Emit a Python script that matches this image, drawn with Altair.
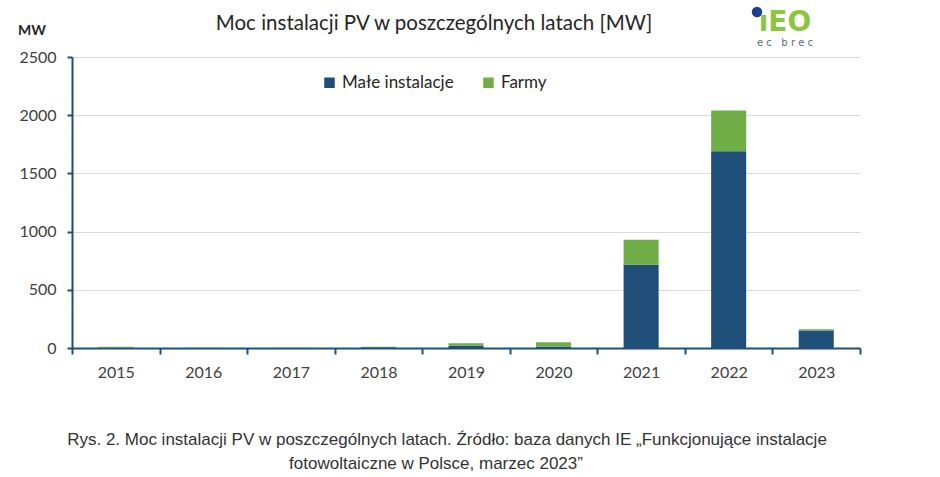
import altair as alt
import pandas as pd

years = ["2015", "2016", "2017", "2018", "2019", "2020", "2021", "2022", "2023"]
male = [5, 1, 1, 6, 20, 10, 716, 1690, 150]
farmy = [5, 0.5, 0.5, 4, 20, 40, 215, 350, 12]
series = ["Małe instalacje", "Farmy"]
colors = ["#1f4e79", "#70ad47"]
y_ticks = [0, 500, 1000, 1500, 2000, 2500]

rows = []
for i, yr in enumerate(years):
    rows.append({"rok": yr, "seria": series[0], "mw": male[i], "kolejnosc": 0})
    rows.append({"rok": yr, "seria": series[1], "mw": farmy[i], "kolejnosc": 1})
df = pd.DataFrame(rows)

FONT = "Lato"
AXIS_COL = "#1f4e79"
LABEL_COL = "#404040"

bars = alt.Chart(df).mark_bar(width=alt.RelativeBandSize(0.4)).encode(
    x=alt.X(
        "rok:N",
        sort=years,
        title=None,
        scale=alt.Scale(paddingInner=0, paddingOuter=0),
        axis=alt.Axis(
            labelAngle=0,
            tickBand="extent",
            domainColor=AXIS_COL,
            domainWidth=2,
            tickColor=AXIS_COL,
            tickWidth=2,
            tickSize=6,
            labelPadding=10,
            labelFont=FONT,
            labelFontSize=16,
            labelColor=LABEL_COL,
        ),
    ),
    y=alt.Y(
        "mw:Q",
        stack="zero",
        title=None,
        scale=alt.Scale(domain=[0, 2500], nice=False),
        axis=alt.Axis(
            values=y_ticks,
            format="d",
            domainColor=AXIS_COL,
            domainWidth=2,
            tickColor=AXIS_COL,
            tickWidth=2,
            tickSize=5,
            labelPadding=11,
            labelFont=FONT,
            labelFontSize=16,
            labelColor=LABEL_COL,
            gridColor="#d9d9d9",
            gridWidth=1,
        ),
    ),
    color=alt.Color(
        "seria:N",
        scale=alt.Scale(domain=series, range=colors),
        legend=alt.Legend(
            title=None,
            orient="none",
            legendX=249,
            legendY=17,
            direction="horizontal",
            symbolType="square",
            symbolSize=110,
            symbolStrokeWidth=0,
            labelFont=FONT,
            labelFontSize=17,
            labelColor="#262626",
            columnPadding=26,
            padding=0,
        ),
    ),
    order=alt.Order("kolejnosc:Q", sort="ascending"),
)


def txt(text, x, y, size, **kw):
    return alt.Chart(alt.Data(values=[{}])).mark_text(
        text=text, fontSize=size, baseline="middle", **kw
    ).encode(x=alt.value(x), y=alt.value(y))


title = txt("Moc instalacji PV w poszczególnych latach [MW]", 362, -33, 20.5,
            font=FONT, color="#262626", align="center")
mw = txt("MW", -54, -26, 14, font=FONT, fontWeight="bold", color="#262626", align="left")
logo = txt("ıEO", 713, -34, 28, font="DejaVu Sans", fontWeight="bold", color="#8cc63f", align="center")
logo_dot = alt.Chart(alt.Data(values=[{}])).mark_circle(color="#1f3f8f", opacity=1, size=110).encode(
    x=alt.value(685), y=alt.value(-45)
)
logo_sub = txt("e\u00a0c\u00a0\u00a0\u00a0b\u00a0r\u00a0e\u00a0c", 713, -14, 10,
               font="DejaVu Sans", color="#5a6a8a", align="center")
cap1 = txt("Rys. 2. Moc instalacji PV w poszczególnych latach. Źródło: baza danych IE „Funkcjonujące instalacje",
           375, 383, 17, font="Liberation Sans", color="#333333", align="center")
cap2 = txt("fotowoltaiczne w Polsce, marzec 2023”", 364, 407, 17,
           font="Liberation Sans", color="#333333", align="center")

chart = alt.layer(bars, title, mw, logo, logo_dot, logo_sub, cap1, cap2).properties(
    width=788,
    height=291,
    autosize=alt.AutoSizeParams(type="none"),
    padding={"left": 72, "top": 57, "right": 80, "bottom": 129},
    background="white",
).configure_view(stroke=None)

chart.save("out.html", embed_options={"renderer": "svg", "actions": False})
